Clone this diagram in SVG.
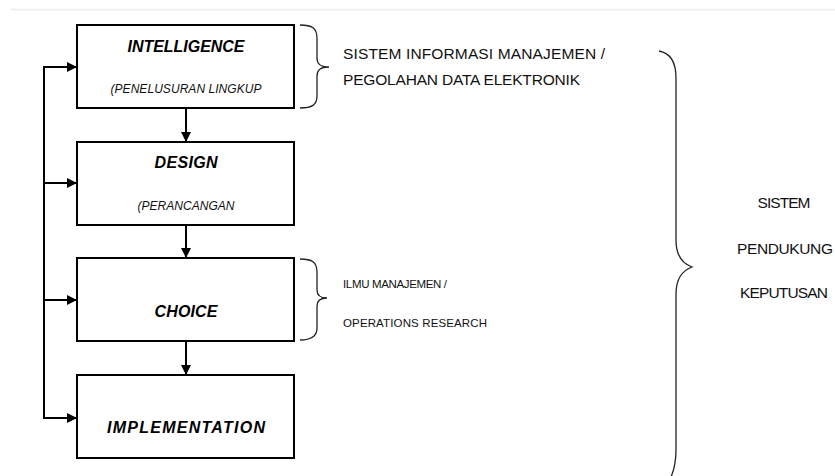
<svg xmlns="http://www.w3.org/2000/svg" width="835" height="476" viewBox="0 0 835 476">
<style>
.box{fill:#fff;stroke:#000;stroke-width:2}
.ln{fill:none;stroke:#000;stroke-width:2}
.br{fill:none;stroke:#222;stroke-width:1.3}
.t{font-family:"Liberation Sans",Arial,sans-serif;fill:#111}
.h{font-weight:bold;font-style:italic;font-size:16px;fill:#000}
.s{font-style:italic;font-size:12px}
.r{font-size:15.5px}
.r2{font-size:11.5px}
</style>
<defs>
<marker id="ah" viewBox="0 0 10 10" refX="10" refY="5" markerWidth="10" markerHeight="10" markerUnits="userSpaceOnUse" orient="auto">
<path d="M0,0 L10,5 L0,10 Z" fill="#000"/>
</marker>
</defs>
<rect width="835" height="476" fill="#fff"/>
<line x1="11" y1="9.5" x2="835" y2="9.5" stroke="#ebebeb" stroke-width="1.5"/>
<g id="intelligence">
<rect class="box" x="77" y="25" width="217" height="83"/>
<text class="t h" x="186" y="52" text-anchor="middle" textLength="117">INTELLIGENCE</text>
<text class="t s" x="186" y="93" text-anchor="middle" textLength="151">(PENELUSURAN LINGKUP</text>
</g>
<g id="design">
<rect class="box" x="77" y="142" width="217" height="83"/>
<text class="t h" x="186" y="168" text-anchor="middle" textLength="63">DESIGN</text>
<text class="t s" x="186" y="210" text-anchor="middle" textLength="97">(PERANCANGAN</text>
</g>
<g id="choice">
<rect class="box" x="77" y="258" width="217" height="83"/>
<text class="t h" x="186" y="317" text-anchor="middle" textLength="63">CHOICE</text>
</g>
<g id="implementation">
<rect class="box" x="77" y="375" width="217" height="83"/>
<text class="t h" x="186" y="433" text-anchor="middle" textLength="158">IMPLEMENTATION</text>
</g>
<g id="connectors">
<path class="ln" d="M44,67 L44,418"/>
<line class="ln" x1="43" y1="67" x2="77" y2="67" marker-end="url(#ah)"/>
<line class="ln" x1="44" y1="183" x2="77" y2="183" marker-end="url(#ah)"/>
<line class="ln" x1="44" y1="300" x2="77" y2="300" marker-end="url(#ah)"/>
<line class="ln" x1="43" y1="418" x2="77" y2="418" marker-end="url(#ah)"/>
<line class="ln" x1="186" y1="108" x2="186" y2="142" marker-end="url(#ah)"/>
<line class="ln" x1="186" y1="225" x2="186" y2="258" marker-end="url(#ah)"/>
<line class="ln" x1="186" y1="341" x2="186" y2="375" marker-end="url(#ah)"/>
</g>
<g id="brace-sim">
<path class="br" d="M300,25 C312,25 317,28 317,38 L317,58 C317,64 320,67 329,67 C320,67 317,70 317,76 L317,96 C317,105 312,108 300,108"/>
<text class="t r" x="343" y="59" textLength="262">SISTEM INFORMASI MANAJEMEN /</text>
<text class="t r" x="343" y="85" textLength="237">PEGOLAHAN DATA ELEKTRONIK</text>
</g>
<g id="brace-or">
<path class="br" d="M300,259 C312,259 317,262 317,272 L317,290 C317,295 320,298 327,298 C320,298 317,301 317,306 L317,328 C317,336 312,340 300,340"/>
<text class="t r2" x="343" y="288" textLength="104">ILMU MANAJEMEN /</text>
<text class="t r2" x="343" y="327" textLength="144">OPERATIONS RESEARCH</text>
</g>
<g id="brace-spk">
<path class="br" d="M659,51 C670,53 676,62 676,78 L676,240 C676,254 681,263 692,267 C681,271 676,280 676,294 L676,450 C676,462 674,470 671,477"/>
<text class="t r" x="784" y="208" text-anchor="middle" textLength="53">SISTEM</text>
<text class="t r" x="785" y="254" text-anchor="middle" textLength="96">PENDUKUNG</text>
<text class="t r" x="784" y="298" text-anchor="middle" textLength="88">KEPUTUSAN</text>
</g>
</svg>
